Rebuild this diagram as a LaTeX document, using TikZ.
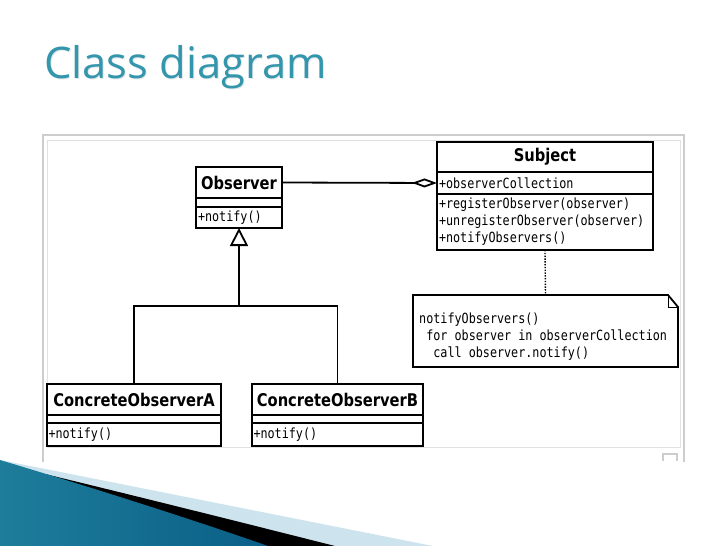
\documentclass[tikz,border=0pt]{standalone}
\usepackage{fontspec}
\setmainfont{DejaVu Sans}
\newfontfamily\titlefont{Open Sans}
\newfontfamily\clsfont[FakeStretch=0.84]{DejaVu Sans}
\newfontfamily\membfont[FakeStretch=0.84]{DejaVu Sans Mono}
\usetikzlibrary{positioning,arrows.meta}

\definecolor{titleteal}{RGB}{52,150,172}
\definecolor{titleshade}{RGB}{228,231,233}
\definecolor{framegray}{RGB}{205,205,205}
\definecolor{framelight}{RGB}{225,225,225}
\definecolor{swooshlight}{RGB}{205,228,238}
\definecolor{swooshdark}{RGB}{30,125,155}
\definecolor{swooshmid}{RGB}{95,185,218}
\definecolor{swooshdeep}{RGB}{10,95,135}

\begin{document}
\begin{tikzpicture}[x=1pt,y=-1pt,
    part/.style={draw, line width=1.8pt, inner sep=0pt, outer sep=0pt},
    namepart/.style={part, font=\clsfont\bfseries\fontsize{17.5}{19}\selectfont},
    memberpart/.style={part, font=\membfont\fontsize{14}{17}\selectfont, align=left, inner xsep=2pt},
    link/.style={line width=1.8pt}
  ]
        \useasboundingbox (0,0) rectangle (728,546);
        \fill[white] (0,0) rectangle (728,546);

        % swoosh in the lower left corner
        \fill[swooshlight] (0,460) -- (433,546) -- (0,546) -- cycle;
        \fill[black] (45,474) .. controls (140,497) and (240,522) .. (335,546) -- (0,546) -- cycle;
        \shade[left color=swooshdark, middle color=swooshmid, right color=swooshdeep]
            (0,460) .. controls (100,490) and (200,522) .. (268,546) -- (0,546) -- cycle;

        \node[font=\titlefont\fontsize{43.5}{50}\selectfont, text=titleshade, anchor=base west, inner sep=0pt] (titleshadow) at (45,79.5) {Class diagram};
        \node[font=\titlefont\fontsize{43.5}{50}\selectfont, text=titleteal, anchor=base west, inner sep=0pt] (title) at (44,78) {Class diagram};

        % frame of the screenshot
        \draw[framegray, line width=1.5pt] (43,462) -- (43,135) -- (684,135) -- (684,462);
        \draw[framelight, line width=1pt] (47,140) rectangle (680,447);
        \draw[framegray, line width=1.2pt] (663,461) -- (663,454) -- (677,454) -- (677,461);

        % Observer
        \node[namepart, minimum width=86, minimum height=31, anchor=north west] (obsname) at (196,167) {Observer};
        \node[part, minimum width=86, minimum height=9, below=0pt of obsname] (obsattr) {};
        \node[memberpart, text width=82pt, minimum height=21, below=0pt of obsattr] (obsops) {+notify()};

        % Subject
        \node[namepart, minimum width=216, minimum height=30, anchor=north west] (subjname) at (437,142) {Subject};
        \node[memberpart, text width=212pt, minimum height=22, below=0pt of subjname] (subjattr) {+observerCollection};
        \node[memberpart, text width=212pt, minimum height=56, below=0pt of subjattr] (subjops) {+registerObserver(observer)\\+unregisterObserver(observer)\\+notifyObservers()};

        % ConcreteObserverA
        \node[namepart, minimum width=174, minimum height=31, anchor=north west] (concAname) at (47,384) {ConcreteObserverA};
        \node[part, minimum width=174, minimum height=8, below=0pt of concAname] (concAattr) {};
        \node[memberpart, inner xsep=1.5pt, text width=171pt, minimum height=23, below=0pt of concAattr] (concAops) {+notify()};

        % ConcreteObserverB
        \node[namepart, minimum width=171, minimum height=31, anchor=north west] (concBname) at (252,384) {ConcreteObserverB};
        \node[part, minimum width=171, minimum height=8, below=0pt of concBname] (concBattr) {};
        \node[memberpart, inner xsep=1.5pt, text width=168pt, minimum height=23, below=0pt of concBattr] (concBops) {+notify()};

        % note
        \node[minimum width=265, minimum height=72, inner sep=0pt, outer sep=0pt, anchor=north west] (note) at (413,295) {};
        \draw[link] (note.north west) -- ([xshift=-10pt]note.north east) -- ([yshift=-12pt]note.north east)
            -- (note.south east) -- (note.south west) -- cycle;
        \draw[line width=0.8pt] ([xshift=-10pt]note.north east) |- ([yshift=-12pt]note.north east);
        \node[font=\membfont\fontsize{14}{17}\selectfont, align=left, inner sep=0pt, anchor=west] (notetext) at (419,336.5)
            {notifyObservers()\\~for observer in observerCollection\\~~call observer.notify()};

        % connectors
        \draw[link, {Diamond[open, length=25pt, width=9pt, fill=white]}-] (subjattr.west) -- (obsname.east);
        \coordinate (fork) at (obsops.south |- 0,306);
        \draw[link] (concAname.north) |- (fork) -| (concBname.north);
        \draw[link, -{Triangle[open, length=18pt, width=18pt, fill=white]}] (fork) -- (obsops.south);
        \draw[line width=1.4pt, dash pattern=on 1.4pt off 1.4pt] (subjops.south) -- (note.north);
\end{tikzpicture}
\end{document}
